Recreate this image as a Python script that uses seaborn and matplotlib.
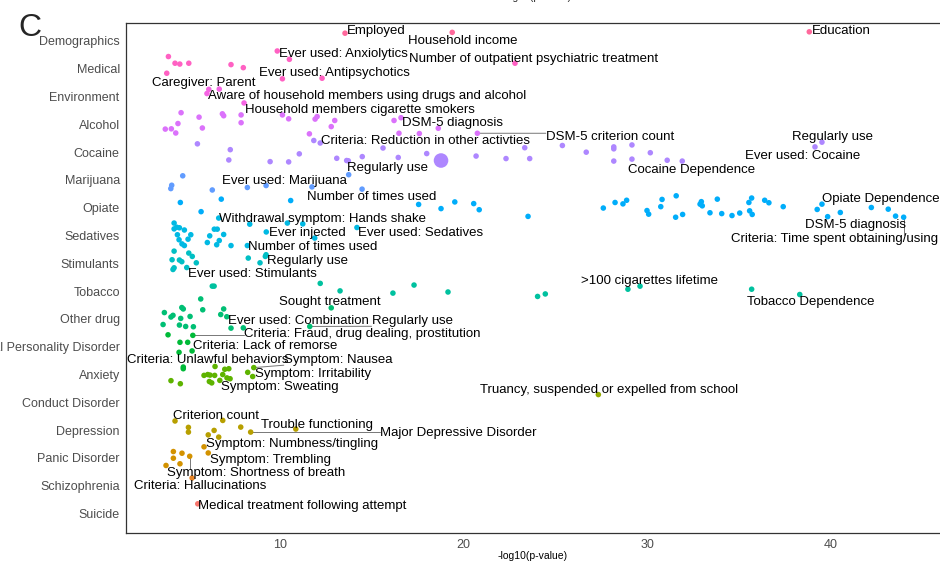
import math
import numpy as np
import pandas as pd
import matplotlib
matplotlib.use("Agg")
import matplotlib.pyplot as plt
import seaborn as sns

# ---------------- data ----------------
categories = ["Demographics", "Medical", "Environment", "Alcohol", "Cocaine", "Marijuana",
              "Opiate", "Sedatives", "Stimulants", "Tobacco", "Other drug",
              "Antisocial Personality Disorder", "Anxiety", "Conduct Disorder", "Depression",
              "Panic Disorder", "Schizophrenia", "Suicide"]

x_demographics = [13.54, 19.38, 38.83]
y_demographics = [-0.28, -0.31, -0.33]

x_medical = [9.85, 10.51, 3.92, 4.28, 4.54, 5.03, 3.83, 7.33, 8.00, 10.13, 12.29, 22.80]
y_medical = [0.36, 0.66, 0.56, 0.80, 0.83, 0.80, 1.16, 0.85, 0.96, 1.36, 1.34, 0.80]

x_environment = [6.12, 6.69, 6.02, 8.04]
y_environment = [1.74, 1.73, 1.89, 2.23]

x_alcohol = [4.61, 5.59, 6.86, 6.93, 7.88, 7.88, 4.44, 3.75, 4.08, 4.32, 5.77, 10.13, 10.47,
             11.91, 12.02, 12.98, 12.79, 16.21, 16.59, 18.62, 16.48, 17.59, 20.75, 11.60]
y_alcohol = [2.58, 2.74, 2.62, 2.69, 2.66, 2.94, 2.97, 3.17, 3.16, 3.31, 3.13, 2.66, 2.80,
             2.81, 2.72, 2.86, 3.08, 2.86, 2.76, 3.14, 3.32, 3.33, 3.32, 3.34]

x_cocaine = [5.50, 7.29, 7.21, 9.46, 10.47, 11.05, 13.09, 13.63, 13.72, 14.48, 15.61, 16.44,
             17.99, 18.77, 20.68, 22.31, 23.33, 23.60, 25.38, 26.68, 28.18, 28.18, 28.18,
             29.17, 29.17, 30.17, 31.09, 31.91, 39.14, 39.52, 11.84, 12.19]
y_cocaine = [3.70, 3.91, 4.28, 4.34, 4.35, 4.06, 4.22, 4.30, 4.31, 4.16, 3.85, 4.19,
             4.05, 4.30, 4.14, 4.23, 3.84, 4.23, 3.76, 4.00, 3.81, 3.88, 4.32,
             3.74, 4.25, 4.02, 4.29, 4.32, 3.81, 3.64, 3.58, 3.67]
w_cocaine = [1] * 13 + [2] + [1] * 18

x_marijuana = [4.70, 4.10, 4.05, 6.31, 8.22, 9.24, 11.74, 13.74, 14.47]
y_marijuana = [4.85, 5.19, 5.31, 5.36, 5.27, 5.20, 5.25, 4.81, 5.33]

x_opiate = [4.57, 6.80, 10.58, 5.70, 17.55, 18.77, 19.52, 20.55, 20.85, 23.51, 27.61, 28.25,
            28.68, 28.88, 29.99, 30.08, 30.74, 30.81, 31.58, 31.55, 31.93, 32.95, 32.88,
            33.00, 33.42, 33.82, 34.06, 34.62, 35.04, 35.54, 35.69, 35.58, 35.72, 36.40,
            36.63, 37.41, 39.26, 39.52, 39.83, 40.52, 42.21, 43.13, 43.53, 43.97]
y_opiate = [5.81, 5.69, 5.74, 6.14, 5.88, 6.03, 5.79, 5.85, 6.07, 6.31, 6.01, 5.81,
            5.86, 5.73, 6.10, 6.23, 5.96, 5.70, 5.57, 6.34, 6.24, 5.78, 5.87,
            5.93, 6.18, 5.69, 6.21, 6.28, 6.19, 5.81, 5.65, 6.11, 6.24, 5.73,
            5.82, 5.96, 6.06, 5.87, 6.32, 6.17, 5.99, 6.05, 6.30, 6.34]

x_sedatives = [6.66, 4.23, 4.37, 4.52, 4.23, 4.79, 5.14, 4.99, 4.41, 4.50, 4.66, 4.79, 6.42,
               6.58, 6.17, 6.93, 6.69, 6.04, 6.55, 7.33, 8.35, 10.40, 11.24, 9.25, 11.89,
               14.19, 8.22]
y_sedatives = [6.37, 6.55, 6.70, 6.72, 6.76, 6.80, 6.97, 7.13, 6.97, 7.15, 7.30, 7.36, 6.77,
               6.77, 7.01, 6.96, 7.18, 7.25, 7.33, 7.36, 6.59, 6.55, 6.58, 6.87, 7.09,
               6.71, 7.36]

x_stimulants = [4.23, 5.03, 5.22, 4.12, 4.52, 4.65, 5.44, 4.23, 4.17, 4.92, 8.27, 9.24, 9.20, 8.91]
y_stimulants = [7.56, 7.63, 7.75, 7.87, 7.88, 7.94, 7.98, 8.16, 8.22, 8.15, 7.81, 7.69, 7.75, 7.98]

x_tobacco = [6.31, 6.41, 12.19, 13.27, 16.15, 17.30, 19.15, 24.03, 24.45, 28.95, 29.61, 35.69, 38.31]
y_tobacco = [8.82, 8.82, 8.72, 8.99, 9.07, 8.78, 9.03, 9.19, 9.10, 8.93, 8.82, 8.93, 9.12]

x_other_drug = [4.65, 4.73, 3.70, 4.17, 4.06, 4.59, 5.10, 5.79, 6.93, 6.77, 7.10, 3.63, 4.52,
                4.86, 5.28, 7.33, 8.00, 11.62, 12.79, 5.68]
y_other_drug = [9.59, 9.64, 9.77, 9.87, 9.93, 9.98, 9.91, 9.67, 9.64, 9.84, 9.92, 10.20, 10.22,
                10.27, 10.28, 10.33, 10.32, 10.27, 9.60, 9.28]

x_antisocial = [3.90, 5.25, 4.55, 4.97, 5.21, 4.50, 4.73, 4.73]
y_antisocial = [10.57, 10.59, 10.84, 10.84, 11.15, 11.20, 11.73, 11.79]

x_anxiety = [6.46, 6.06, 6.19, 5.86, 6.44, 6.88, 6.99, 7.21, 7.11, 7.28, 6.15, 6.28, 6.72,
             4.06, 4.57, 8.24, 8.51, 8.57]
y_anxiety = [11.71, 12.00, 12.02, 12.03, 12.03, 12.00, 11.81, 11.79, 12.12, 12.15, 12.25, 12.30,
             12.21, 12.22, 12.33, 11.92, 12.07, 11.75]

x_conduct = [27.34]
y_conduct = [12.72]

x_depression = [4.28, 6.88, 7.86, 5.01, 5.01, 6.41, 6.09, 6.66, 8.40, 10.86]
y_depression = [13.67, 13.65, 13.89, 13.90, 14.07, 14.01, 14.17, 14.25, 14.07, 13.96]

x_panic = [4.19, 4.66, 4.19, 5.08, 4.55, 3.79, 5.86, 6.09]
y_panic = [14.77, 14.83, 15.01, 14.94, 15.21, 15.27, 14.60, 14.82]

x_schizophrenia = [5.21]
y_schizophrenia = [15.72]

x_suicide = [5.52]
y_suicide = [16.65]

# labels: text, point x, point y
label_text = ["Employed", "Household income", "Education", "Ever used: Anxiolytics",
              "Number of outpatient psychiatric treatment", "Ever used: Antipsychotics",
              "Caregiver: Parent", "Aware of household members using drugs and alcohol",
              "Household members cigarette smokers", "DSM-5 diagnosis",
              "Criteria: Reduction in other activties", "DSM-5 criterion count",
              "Regularly use", "Ever used: Marijuana", "Number of times used",
              "Regularly use", "Ever used: Cocaine", "Cocaine Dependence",
              "Opiate Dependence", "DSM-5 diagnosis", "Criteria: Time spent obtaining/using",
              "Withdrawal symptom: Hands shake", "Ever injected", "Ever used: Sedatives",
              "Number of times used", "Regularly use", "Ever used: Stimulants",
              ">100 cigarettes lifetime", "Tobacco Dependence", "Sought treatment",
              "Ever used: Combination", "Regularly use",
              "Criteria: Fraud, drug dealing, prostitution", "Criteria: Lack of remorse",
              "Criteria: Unlawful behaviors", "Symptom: Nausea", "Symptom: Irritability",
              "Symptom: Sweating", "Truancy, suspended or expelled from school",
              "Criterion count", "Trouble functioning", "Major Depressive Disorder",
              "Symptom: Numbness/tingling", "Symptom: Trembling",
              "Symptom: Shortness of breath", "Criteria: Hallucinations",
              "Medical treatment following attempt"]
label_px = [13.54, 19.38, 38.83, 10.51, 22.80, 10.13, 6.12, 6.02, 8.04, 16.59,
            12.19, 20.75, 13.72, 13.74, 14.47, 39.52, 39.14, 31.91,
            39.52, 43.53, 43.97, 6.66, 9.25, 14.19, 8.22, 9.24, 4.92,
            28.95, 38.31, 12.79, 7.33, 11.62, 5.25, 4.97, 4.73, 8.57, 8.51,
            7.28, 27.34, 7.86, 10.86, 8.40, 5.86, 6.09, 5.08, 5.21, 5.52]
label_py = [-0.28, -0.31, -0.33, 0.66, 0.80, 1.36, 1.74, 1.89, 2.23, 2.76,
            3.67, 3.32, 4.31, 4.81, 5.33, 3.64, 3.81, 4.32,
            5.87, 6.30, 6.34, 6.37, 6.87, 6.71, 7.36, 7.69, 8.15,
            8.93, 9.12, 9.60, 10.33, 10.27, 10.59, 10.84, 11.73, 11.75, 12.07,
            12.15, 12.72, 13.89, 13.96, 14.07, 14.60, 14.82, 14.94, 15.72, 16.65]
# label text placement (centre of text)
label_tx = [15.23, 19.97, 40.56, 13.43, 23.83, 12.94, 5.86, 14.74, 14.36, 19.37,
            17.95, 27.97, 15.88, 10.22, 15.01, 40.12, 38.49, 32.44,
            42.74, 41.37, 40.23, 12.34, 11.47, 17.63, 11.80, 11.52, 8.48,
            30.15, 38.92, 12.72, 10.98, 17.19, 14.47, 9.18, 6.08, 13.16, 11.80,
            10.00, 27.92, 6.51, 12.01, 19.70, 10.65, 9.46, 8.69, 5.64, 11.20]
label_ty = [-0.43, -0.07, -0.43, 0.43, 0.58, 1.11, 1.47, 1.94, 2.44, 2.91,
            3.56, 3.41, 4.53, 5.00, 5.57, 3.41, 4.10, 4.60,
            5.64, 6.58, 7.08, 6.36, 6.87, 6.87, 7.37, 7.87, 8.34,
            8.59, 9.35, 9.35, 10.03, 10.03, 10.50, 10.93, 11.43, 11.43, 11.93,
            12.40, 12.51, 13.44, 13.77, 14.05, 14.45, 15.02, 15.49, 15.96, 16.68]

# ---------------- colours (ggplot-like hue palette) ----------------
def hcl_hex(h, c=100.0, l=65.0):
    hr = math.radians(h)
    u, v = c * math.cos(hr), c * math.sin(hr)
    un, vn = 0.19784, 0.46834
    Y = ((l + 16) / 116) ** 3 if l > 8 else l / 903.3
    up = u / (13 * l) + un
    vp = v / (13 * l) + vn
    X = Y * 9 * up / (4 * vp)
    Z = Y * (12 - 3 * up - 20 * vp) / (4 * vp)
    rgb = [3.2406 * X - 1.5372 * Y - 0.4986 * Z,
           -0.9689 * X + 1.8758 * Y + 0.0415 * Z,
           0.0557 * X - 0.2040 * Y + 1.0570 * Z]
    out = []
    for ch in rgb:
        ch = 12.92 * ch if ch <= 0.0031308 else 1.055 * ch ** (1 / 2.4) - 0.055
        out.append(min(max(ch, 0), 1))
    return matplotlib.colors.to_hex(out)

n = len(categories)
palette = {cat: hcl_hex(15 + 20 * (n - 1 - i)) for i, cat in enumerate(categories)}

xs = [x_demographics, x_medical, x_environment, x_alcohol, x_cocaine, x_marijuana, x_opiate,
      x_sedatives, x_stimulants, x_tobacco, x_other_drug, x_antisocial, x_anxiety, x_conduct,
      x_depression, x_panic, x_schizophrenia, x_suicide]
ys = [y_demographics, y_medical, y_environment, y_alcohol, y_cocaine, y_marijuana, y_opiate,
      y_sedatives, y_stimulants, y_tobacco, y_other_drug, y_antisocial, y_anxiety, y_conduct,
      y_depression, y_panic, y_schizophrenia, y_suicide]
rows = []
for cat, xv, yv in zip(categories, xs, ys):
    wv = w_cocaine if cat == "Cocaine" else [1] * len(xv)
    for a, b, w in zip(xv, yv, wv):
        rows.append((cat, a, b, w))
df = pd.DataFrame(rows, columns=["category", "x", "y", "w"])

# ---------------- figure ----------------
sns.set_theme(style="white")
plt.rcParams["font.family"] = ["Liberation Sans", "DejaVu Sans"]

fig = plt.figure(figsize=(9.4, 5.64), dpi=100)
ax = fig.add_axes([126 / 940, 31 / 564, 814 / 940, 510 / 564])

sns.scatterplot(data=df, x="x", y="y", hue="category", palette=palette, size="w",
                sizes={1: 16, 2: 110}, linewidth=0, legend=False, ax=ax, zorder=3)

ax.set_xlim(1.61, 45.95)
ax.set_ylim(17.70, -0.647)
ax.set_yticks(range(n))
ax.set_yticklabels(categories)
ax.set_xticks([10, 20, 30, 40])
ax.tick_params(axis="both", length=3, width=0.6, color="#333333", labelcolor="#4D4D4D",
               labelsize=9, pad=1.5)
ax.set_xlabel("-log10(p-value)", fontsize=7.5, color="black", labelpad=0)
ax.set_ylabel("")
for side in ["left", "top", "bottom"]:
    ax.spines[side].set_color("#333333")
    ax.spines[side].set_linewidth(0.9)
ax.spines["right"].set_visible(False)

texts = []
for t, tx, ty in zip(label_text, label_tx, label_ty):
    texts.append(ax.text(tx, ty, t, ha="center", va="center_baseline", fontsize=9.5,
                         color="black", zorder=5))

fig.canvas.draw()
renderer = fig.canvas.get_renderer()
inv = ax.transData.inverted()
for txt, px, py in zip(texts, label_px, label_py):
    bb = txt.get_window_extent(renderer)
    dx, dy = ax.transData.transform((px, py))
    cx = min(max(dx, bb.x0), bb.x1)
    cy = min(max(dy, bb.y0 + 1), bb.y1 - 2)
    if math.hypot(cx - dx, cy - dy) > 7:
        (ex, ey) = inv.transform((cx, cy))
        ax.plot([px, ex], [py, ey], color="#777777", lw=0.7, zorder=2)

fig.text(30 / 940, 1 - 28 / 564, "C", fontsize=23, ha="center", va="center")
fig.text(537 / 940, 1.0 + 3 / 564, "-log10(p-value)", fontsize=7.5, ha="center", va="center")

fig.savefig("out.png", dpi=100)
